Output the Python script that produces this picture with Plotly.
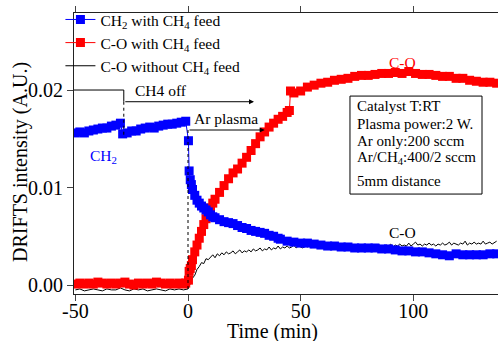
import plotly.graph_objects as go

# ---------------- data ----------------
ch2_t = [-50, -48, -46, -44, -42, -40, -38, -36, -34, -32, -30,
         -29, -27, -25, -23, -21, -19, -17, -15, -13, -11, -9, -7, -5, -3, -1,
         0.2, 0.5, 1, 1.5, 2, 3, 4, 5, 6, 7, 8, 9, 10, 11, 12, 14, 16, 18, 20,
         22, 24, 26, 28, 30, 32, 34, 36, 38, 40, 41, 44, 47, 50, 53, 56, 59, 62,
         65, 68, 71, 74, 77, 80, 83, 86, 89, 92, 95, 98, 101, 104, 107, 110, 113,
         116, 119, 122, 125, 128, 131, 134, 137]
ch2_y = [0.0156, 0.0157, 0.0156, 0.0158, 0.0159, 0.0160, 0.0161, 0.0161, 0.0163, 0.0164, 0.0166,
         0.0155, 0.0156, 0.0158, 0.0158, 0.0160, 0.0161, 0.0162, 0.0161, 0.0163, 0.0164, 0.0165,
         0.0165, 0.0166, 0.0167, 0.0168,
         0.0148, 0.0117, 0.0108, 0.0103, 0.0098, 0.0092, 0.0087, 0.0084, 0.0081, 0.0079, 0.0077,
         0.0075, 0.0072, 0.0070, 0.0069, 0.0067, 0.0065, 0.0064, 0.0063, 0.0061, 0.0059, 0.0058,
         0.0056, 0.0055, 0.0054, 0.0053, 0.0051, 0.0050, 0.0048, 0.0047, 0.0045, 0.0044, 0.0043,
         0.0043, 0.0042, 0.0041, 0.0040, 0.0040, 0.0039, 0.0039, 0.0038, 0.0038, 0.0038, 0.0038,
         0.0037, 0.0037, 0.0036, 0.0035, 0.0035, 0.0034, 0.0034, 0.0033, 0.0032, 0.0031, 0.0030,
         0.0032, 0.0031, 0.0031, 0.0031, 0.0031, 0.0032, 0.0032]

co_t = [-50, -48, -46, -44, -42, -40, -38, -36, -34, -32, -30, -28, -26, -24, -22, -20,
        -18, -16, -14, -12, -10, -8, -6, -4, -2, -1,
        0.2, 0.5, 1, 1.5, 2, 3, 4, 5, 6, 7, 8, 9, 10, 11, 12, 14, 16, 18, 20, 22, 24, 26,
        28, 30, 32, 34, 36, 38, 40, 42, 44, 45, 45.5, 47, 50, 53, 56, 59, 62, 65, 68, 71,
        74, 77, 80, 83, 86, 89, 92, 95, 98, 101, 104, 107, 110, 113, 116, 119, 122, 125,
        128, 131, 134, 137]
co_y = [0.0001, 0.0002, 0.0001, 0.0002, 0.0001, 0.0003, 0.0002, 0.0001, 0.0002, 0.0001,
        0.0002, 0.0003, 0.0001, 0.0000, 0.0002, 0.0001, 0.0002, 0.0001, 0.0003, 0.0002,
        0.0001, 0.0002, 0.0001, 0.0002, 0.0001, 0.0002,
        0.0005, 0.0014, 0.0017, 0.0020, 0.0026, 0.0034, 0.0041, 0.0048, 0.0055, 0.0062,
        0.0068, 0.0074, 0.0079, 0.0084, 0.0088, 0.0095, 0.0102, 0.0109, 0.0115, 0.0119,
        0.0125, 0.0131, 0.0138, 0.0145, 0.0152, 0.0157, 0.0162, 0.0166, 0.0170, 0.0173,
        0.0177, 0.0179, 0.0199, 0.0197, 0.0199, 0.0203, 0.0205, 0.0207, 0.0208, 0.0210,
        0.0211, 0.0212, 0.0214, 0.0215, 0.0215, 0.0216, 0.0217, 0.0217, 0.0218, 0.0217,
        0.0219, 0.0217, 0.0216, 0.0216, 0.0215, 0.0214, 0.0214, 0.0212, 0.0212, 0.0210,
        0.0209, 0.0208, 0.0208, 0.0207]

nofeed_t = [-50, -48, -46, -44, -42, -40, -38, -36, -34, -32, -30, -28, -26, -24, -22,
            -20, -18, -16, -14, -12, -10, -8, -6, -4, -2] + list(range(0, 138))
nofeed_y = [-0.0005, -0.0004, -0.0006, -0.0005, -0.0004, -0.0005, -0.0006, -0.0004,
            -0.0005, -0.0005, -0.0003, -0.0005, -0.0006, -0.0004, -0.0005, -0.0004,
            -0.0006, -0.0005, -0.0004, -0.0005, -0.0006, -0.0004, -0.0005, -0.0004, -0.0005,
            -0.0004, 0.0001, 0.0007, 0.0010, 0.0016, 0.0019, 0.0023, 0.0022, 0.0027, 0.0026,
            0.0029, 0.0031, 0.0028, 0.0032, 0.0030, 0.0033, 0.0031, 0.0034, 0.0032, 0.0033,
            0.0035, 0.0032, 0.0034, 0.0036, 0.0033, 0.0035, 0.0034, 0.0036, 0.0034, 0.0037,
            0.0035, 0.0036, 0.0038, 0.0035, 0.0037, 0.0036, 0.0039, 0.0036, 0.0038, 0.0037,
            0.0040, 0.0037, 0.0039, 0.0038, 0.0040, 0.0038, 0.0039, 0.0041, 0.0038, 0.0040,
            0.0039, 0.0038, 0.0040, 0.0039, 0.0041, 0.0038, 0.0040, 0.0039, 0.0038, 0.0040,
            0.0039, 0.0041, 0.0038, 0.0039, 0.0040, 0.0038, 0.0040, 0.0039, 0.0041, 0.0039,
            0.0040, 0.0038, 0.0040, 0.0039, 0.0041, 0.0039, 0.0040, 0.0039, 0.0041, 0.0038,
            0.0040, 0.0039, 0.0041, 0.0040, 0.0039, 0.0041, 0.0040, 0.0039, 0.0041, 0.0040,
            0.0042, 0.0039, 0.0041, 0.0040, 0.0042, 0.0040, 0.0041, 0.0040, 0.0043, 0.0040,
            0.0042, 0.0044, 0.0041, 0.0042, 0.0040, 0.0042, 0.0041, 0.0043, 0.0041, 0.0042,
            0.0040, 0.0042, 0.0041, 0.0043, 0.0041, 0.0042, 0.0044, 0.0041, 0.0043, 0.0042,
            0.0041, 0.0043, 0.0042, 0.0045, 0.0041, 0.0043, 0.0042, 0.0044, 0.0042, 0.0043,
            0.0042, 0.0045, 0.0042, 0.0043, 0.0044, 0.0042, 0.0044, 0.0045]

x_ticks = [-50, 0, 50, 100]
x_ticklabels = ["-50", "0", "50", "100"]
y_ticks = [0.00, 0.01, 0.02]
y_ticklabels = ["0.00", "0.01", "0.02"]

names = ["CH<sub>2</sub> with CH<sub>4</sub> feed",
         "C-O with CH<sub>4</sub> feed",
         "C-O without CH<sub>4</sub> feed"]
info_lines = ["Catalyst T:RT", "Plasma power:2 W.", "Ar only:200 sccm",
              "Ar/CH<sub>4</sub>:400/2 sccm", "5mm distance"]

FONT = "Liberation Serif, Times New Roman, serif"
BLUE = "#0000FF"
RED = "#FF0000"

fig = go.Figure()
fig.add_trace(go.Scatter(x=nofeed_t, y=nofeed_y, mode="lines", name=names[2],
                         line=dict(color="black", width=1), legendrank=3))
fig.add_trace(go.Scatter(x=co_t, y=co_y, mode="lines+markers", name=names[1],
                         line=dict(color=RED, width=1),
                         marker=dict(symbol="square", size=9, color=RED), legendrank=2))
fig.add_trace(go.Scatter(x=ch2_t, y=ch2_y, mode="lines+markers", name=names[0],
                         line=dict(color=BLUE, width=1),
                         marker=dict(symbol="square", size=9, color=BLUE), legendrank=1))

# guide lines
fig.add_shape(type="line", x0=-50.6, x1=-28.5, y0=0.0200, y1=0.0200, line=dict(color="black", width=1))
fig.add_shape(type="line", x0=-28.5, x1=-28.5, y0=0.0200, y1=0.0188, line=dict(color="black", width=1))
fig.add_shape(type="line", x0=-28.5, x1=-28.5, y0=0.0188, y1=0.0152, line=dict(color="black", width=1, dash="dot"))
fig.add_shape(type="line", x0=0, x1=0, y0=0.0159, y1=-0.0007, line=dict(color="black", width=1, dash="dot"))

fig.add_annotation(x=29.3, y=0.0188, ax=-28.5, ay=0.0188, axref="x", ayref="y", xref="x", yref="y",
                   text="", showarrow=True, arrowhead=2, arrowsize=1, arrowwidth=1, arrowcolor="black")
fig.add_annotation(x=34.0, y=0.0159, ax=0, ay=0.0159, axref="x", ayref="y", xref="x", yref="y",
                   text="", showarrow=True, arrowhead=2, arrowsize=1, arrowwidth=1, arrowcolor="black")

txt = dict(family=FONT, size=15.5, color="black")
fig.add_annotation(x=-24.4, y=0.0200, text="CH4 off", showarrow=False, xanchor="left", yanchor="middle", font=txt)
fig.add_annotation(x=1.8, y=0.01713, text="Ar plasma", showarrow=False, xanchor="left", yanchor="middle", font=txt)
fig.add_annotation(x=-44.4, y=0.0132, text="CH<sub>2</sub>", showarrow=False, xanchor="left", yanchor="middle",
                   font=dict(family=FONT, size=15.5, color=BLUE))
fig.add_annotation(x=95.4, y=0.02282, text="C-O", showarrow=False, xanchor="center", yanchor="middle",
                   font=dict(family=FONT, size=15.5, color=RED))
fig.add_annotation(x=95.0, y=0.00538, text="C-O", showarrow=False, xanchor="center", yanchor="middle", font=txt)

# info box
fig.add_shape(type="rect", x0=71.9, x1=130.5, y0=0.00933, y1=0.01938, line=dict(color="black", width=1),
              fillcolor="white", layer="above")
info_y = [0.01833, 0.01653, 0.01476, 0.01299, 0.01067]
for s, yy in zip(info_lines, info_y):
    fig.add_annotation(x=74.1, y=yy, text=s, showarrow=False, xanchor="left", yanchor="middle",
                       font=dict(family=FONT, size=15, color="black"))

# axis titles
fig.add_annotation(xref="paper", yref="paper", x=-0.125, y=0.47, text="DRIFTS intensity (A.U.)",
                   textangle=-90, showarrow=False, xanchor="center", yanchor="middle",
                   font=dict(family=FONT, size=20, color="black"))
fig.add_annotation(xref="paper", yref="paper", x=0.467, y=-0.135, text="Time (min)",
                   showarrow=False, xanchor="center", yanchor="middle",
                   font=dict(family=FONT, size=20, color="black"))

fig.update_layout(
    width=498, height=341,
    margin=dict(l=74, r=0, t=13, b=47),
    plot_bgcolor="white", paper_bgcolor="white",
    font=dict(family=FONT, color="black"),
    legend=dict(x=-0.032, y=1.036, xanchor="left", yanchor="top", bgcolor="rgba(0,0,0,0)",
                font=dict(family=FONT, size=15.5, color="black"), tracegroupgap=0),
    xaxis=dict(range=[-50.6, 137.6], tickvals=x_ticks, ticktext=x_ticklabels, ticks="outside", ticklen=6,
               ticklabelstandoff=-7,
               showline=True, linecolor="#222", linewidth=1, mirror="ticks", showgrid=False,
               zeroline=False, tickfont=dict(size=20)),
    yaxis=dict(range=[-0.00092, 0.0279], tickvals=y_ticks, ticktext=y_ticklabels, ticks="outside", ticklen=6,
               showline=True, linecolor="#222", linewidth=1, mirror=False, showgrid=False,
               zeroline=False, tickfont=dict(size=20)),
)

fig.write_html("out.html")
